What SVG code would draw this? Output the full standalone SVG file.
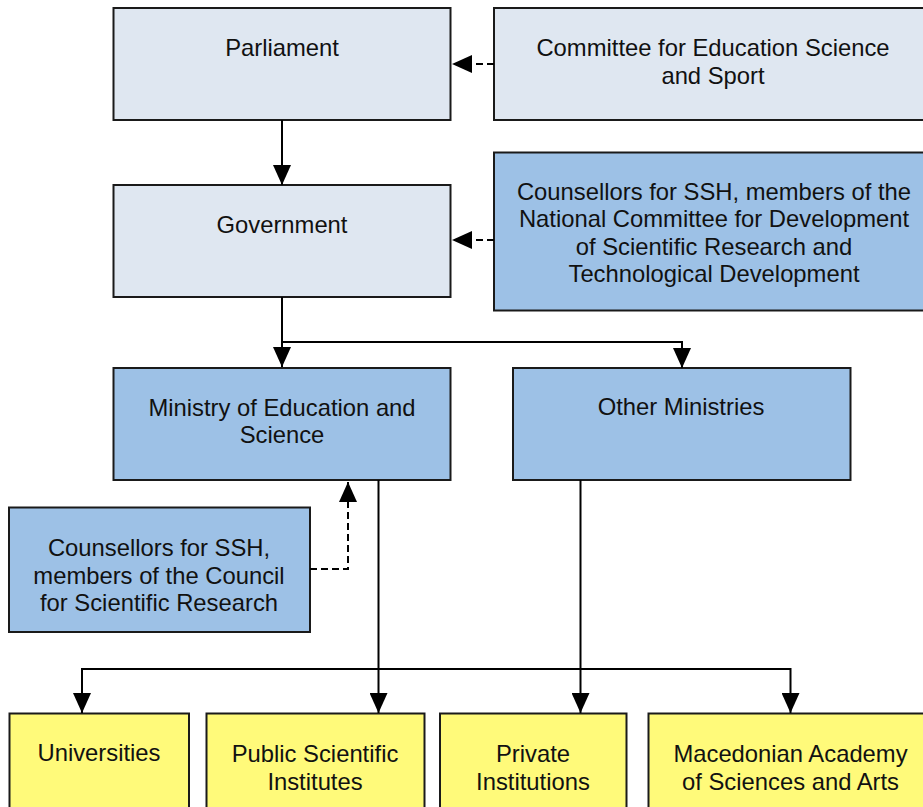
<svg xmlns="http://www.w3.org/2000/svg" width="923" height="807" viewBox="0 0 923 807">
<style>
.box{stroke:#1a1a1a;stroke-width:2}
.l{fill:#dfe7f1}
.b{fill:#9dc1e6}
.y{fill:#fffa7a}
text{font-family:"Liberation Sans",Arial,sans-serif;font-size:23.8px;fill:#111;text-anchor:middle}
.c{fill:none;stroke:#000;stroke-width:2}
.d{stroke-dasharray:7,4}
</style>
<defs>
<marker id="ah" markerUnits="userSpaceOnUse" markerWidth="20" markerHeight="18" refX="20" refY="9" orient="auto">
<path d="M0,0 L20,9 L0,18 Z" fill="#000"/>
</marker>
</defs>
<rect width="923" height="807" fill="#fff"/>
<g id="parliament"><rect class="box l" x="113.5" y="8" width="337" height="112"/><text x="282" y="56">Parliament</text></g>
<g id="committee"><rect class="box l" x="494" y="8" width="440" height="112"/><text x="713" y="56">Committee for Education Science</text><text x="713" y="83.5">and Sport</text></g>
<g id="government"><rect class="box l" x="113.5" y="185" width="337" height="112"/><text x="282" y="233">Government</text></g>
<g id="national-committee"><rect class="box b" x="494" y="152.5" width="440" height="158"/><text x="714" y="199.5">Counsellors for SSH, members of the</text><text x="714" y="227">National Committee for Development</text><text x="714" y="254.5">of Scientific Research and</text><text x="714" y="282">Technological Development</text></g>
<g id="ministry"><rect class="box b" x="113.5" y="368" width="337" height="112"/><text x="282" y="415.5">Ministry of Education and</text><text x="282" y="443">Science</text></g>
<g id="other-ministries"><rect class="box b" x="513" y="368" width="337.5" height="112"/><text x="681" y="415">Other Ministries</text></g>
<g id="council"><rect class="box b" x="9" y="507.5" width="301" height="124.5"/><text x="159" y="555.5">Counsellors for SSH,</text><text x="159" y="583.5">members of the Council</text><text x="159" y="611">for Scientific Research</text></g>
<g id="universities"><rect class="box y" x="9.5" y="713.5" width="179.5" height="110"/><text x="99" y="761">Universities</text></g>
<g id="public-institutes"><rect class="box y" x="206.5" y="713.5" width="218" height="110"/><text x="315" y="762">Public Scientific</text><text x="315" y="789.5">Institutes</text></g>
<g id="private"><rect class="box y" x="440" y="713.5" width="186.5" height="110"/><text x="533" y="762">Private</text><text x="533" y="789.5">Institutions</text></g>
<g id="academy"><rect class="box y" x="648.5" y="713.5" width="290" height="110"/><text x="790.5" y="762">Macedonian Academy</text><text x="790.5" y="789.5">of Sciences and Arts</text></g>
<g id="connectors">
<path class="c" d="M282,120 V185" marker-end="url(#ah)"/>
<path class="c d" d="M494,64 H452" marker-end="url(#ah)"/>
<path class="c d" d="M494,240 H452" marker-end="url(#ah)"/>
<path class="c" d="M282,297 V367" marker-end="url(#ah)"/>
<path class="c" d="M282,342 H682 V368" marker-end="url(#ah)"/>
<path class="c d" d="M310,569 H348 V482" marker-end="url(#ah)"/>
<path class="c" d="M378.5,480 V713" marker-end="url(#ah)"/>
<path class="c" d="M378.5,669 H82 V713" marker-end="url(#ah)"/>
<path class="c" d="M378.5,669 H790.5 V713" marker-end="url(#ah)"/>
<path class="c" d="M580.5,480 V713" marker-end="url(#ah)"/>
</g>
</svg>
